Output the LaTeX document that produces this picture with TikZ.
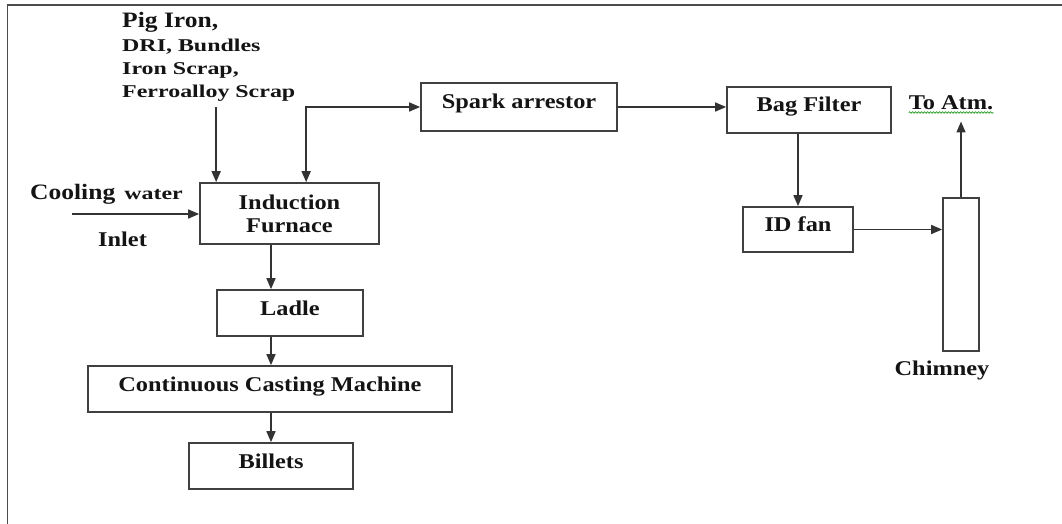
\documentclass[tikz,border=0pt]{standalone}
\usepackage{fontspec}
\setmainfont{Liberation Serif}
\newfontfamily\widefont{Liberation Serif}[FakeStretch=1.16]
\newfontfamily\widerfont{Liberation Serif}[FakeStretch=1.33]
\usetikzlibrary{arrows.meta,decorations.pathmorphing}

\tikzset{
  boxbase/.style={draw=black!75, line width=1.7pt, rectangle, inner sep=0pt,
    text=black!92, font=\widefont\bfseries\fontsize{21}{23}\selectfont},
  box/.style={boxbase, text height=9pt, text depth=5pt},
  bigtxt/.style={inner sep=0pt, text=black!92, font=\widefont\bfseries\fontsize{21}{23}\selectfont},
  smalltxt/.style={inner sep=0pt, text=black!92, font=\widerfont\bfseries\fontsize{18}{20}\selectfont},
  arr/.style={draw=black!80, line width=1.6pt, -{Triangle[length=11pt,width=9pt]}},
  arrboth/.style={draw=black!80, line width=1.6pt, {Triangle[length=11pt,width=9pt]}-{Triangle[length=11pt,width=9pt]}},
}

\begin{document}
\begin{tikzpicture}[x=1pt,y=-1pt]
\useasboundingbox (0,0) rectangle (1062,524);

% page frame
\draw[black!70, line width=1.8pt] (7.5,524) -- (7.5,5) -- (1062,5);

% process boxes
\node[boxbase, align=center, minimum width=179pt, minimum height=61pt] (furnace) at (289.5,213.5) {Induction\\Furnace};
\node[box, minimum width=146pt, minimum height=46pt] (ladle) at (290,313) {Ladle};
\node[box, minimum width=364pt, minimum height=46pt] (ccm) at (270,389) {Continuous Casting Machine};
\node[box, minimum width=164pt, minimum height=46pt] (billets) at (271,466) {Billets};
\node[box, minimum width=196pt, minimum height=48pt] (spark) at (519,107) {Spark arrestor};
\node[box, minimum width=164pt, minimum height=46pt] (bag) at (809,110) {Bag Filter};
\node[box, minimum width=110pt, minimum height=45pt] (idfan) at (798,229.5) {ID fan};
\node[boxbase, minimum width=36pt, minimum height=153pt] (chimney) at (961,274.5) {};

% charge materials
\node[bigtxt, anchor=base west, font=\widefont\bfseries\fontsize{22}{24}\selectfont] (feed1) at (122,28) {Pig Iron,};
\node[smalltxt, anchor=base west] (feed2) at (122,52) {DRI, Bundles};
\node[smalltxt, anchor=base west] (feed3) at (122,75) {Iron Scrap,};
\node[smalltxt, anchor=base west] (feed4) at (122,98) {Ferroalloy Scrap};

% cooling water
\node[anchor=base west, inner sep=0pt, text=black!92] (cool) at (30,199)
  {{\widefont\bfseries\fontsize{22}{24}\selectfont Cooling}\hspace{9pt}{\widerfont\bfseries\fontsize{18}{20}\selectfont water}};
\node[bigtxt, anchor=base west] (inlet) at (98,246) {Inlet};

% stack labels
\node[bigtxt, anchor=base] (atm) at (951,110) {To Atm.};
\node[bigtxt, anchor=base] (chimlbl) at (942,375) {Chimney};
\draw[decorate, decoration={snake, amplitude=0.8pt, segment length=3pt},
  green!55!black, line width=0.6pt]
  ([yshift=-2pt]atm.south west) -- ([yshift=-2pt]atm.south east);

% connectors
\coordinate (fin) at ([xshift=17pt]furnace.north west);
\coordinate (fout) at ([xshift=107pt]furnace.north west);
\coordinate (cw) at (72,214);
\draw[arr, shorten <=5pt] (feed4.south -| fin) -- (fin);
\draw[arrboth] (fout) |- (spark.west);
\draw[arr] (cw) -- (cw -| furnace.west);
\draw[arr] (furnace.south -| billets.north) -- (ladle.north -| billets.north);
\draw[arr] (ladle.south -| billets.north) -- (ccm.north -| billets.north);
\draw[arr] (ccm.south -| billets.north) -- (billets.north);
\draw[arr] (spark.east) -- (spark.east -| bag.west);
\draw[arr] (bag.south -| idfan.north) -- (idfan.north);
\draw[arr] (idfan.east) -- (idfan.east -| chimney.west);
\draw[arr, shorten >=11pt] (chimney.north) -- (chimney.north |- atm.south);
\end{tikzpicture}
\end{document}
